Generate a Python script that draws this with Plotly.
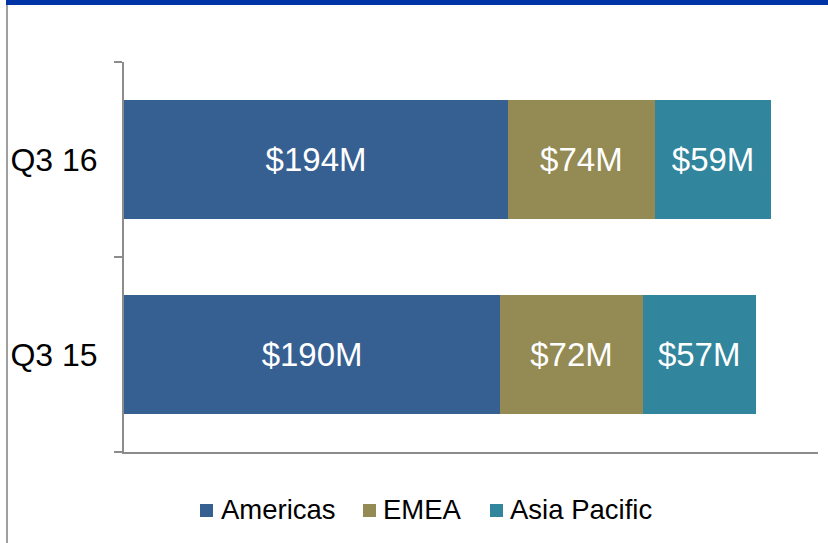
import plotly.graph_objects as go

categories = ["Q3 15", "Q3 16"]
americas = [190, 194]
emea = [72, 74]
asia_pacific = [57, 59]
series_names = ["Americas", "EMEA", "Asia Pacific"]
colors = ["#376092", "#948A54", "#31859C"]

FONT = "Liberation Sans, Arial, sans-serif"

fig = go.Figure()
for name, vals, col in zip(series_names, [americas, emea, asia_pacific], colors):
    fig.add_trace(go.Bar(
        y=categories, x=vals, name=name, orientation="h",
        marker=dict(color=col, line=dict(width=0)),
        text=[f"${v}M" for v in vals],
        textposition="inside", insidetextanchor="middle", textangle=0,
        textfont=dict(color="white", size=33, family=FONT),
        width=0.615, showlegend=False,
    ))

W, H = 828, 543
L, R, T, B = 124, 10, 62, 91
pw, ph = W - L - R, H - T - B

def px(x):
    return (x - L) / pw

def py(y):
    return (H - B - y) / ph

shapes = [
    dict(type="rect", xref="paper", yref="paper", x0=px(6), x1=px(828), y0=py(5), y1=py(0),
         fillcolor="#0033A6", line=dict(width=0), layer="above"),
    dict(type="line", xref="paper", yref="paper", x0=px(7), x1=px(7), y0=py(5), y1=py(543),
         line=dict(color="#a0a0a0", width=2)),
]
annotations = []
# manual legend
sq_x = [200, 363, 490]
tx_x = [219, 381, 508]
for name, col, sx, tx in zip(series_names, colors, sq_x, tx_x):
    shapes.append(dict(type="rect", xref="paper", yref="paper", x0=px(sx), x1=px(sx + 13),
                       y0=py(517), y1=py(504), fillcolor=col, line=dict(width=0)))
    annotations.append(dict(text=name, xref="paper", yref="paper", x=px(tx), y=py(510),
                            xanchor="left", yanchor="middle", showarrow=False,
                            font=dict(size=27.5, family=FONT, color="black")))

fig.update_layout(
    width=W, height=H,
    barmode="stack",
    margin=dict(l=L, r=R, t=T, b=B, pad=0),
    paper_bgcolor="white", plot_bgcolor="white",
    font=dict(family=FONT, color="black"),
    showlegend=False,
    xaxis=dict(range=[0, 350.5], showgrid=False, zeroline=False, showticklabels=False,
               ticks="", showline=True, linecolor="#8c8c8c", linewidth=2, fixedrange=True),
    yaxis=dict(type="category", range=[-0.5, 1.5], showgrid=False, zeroline=False,
               showline=True, linecolor="#8c8c8c", linewidth=2,
               ticks="outside", tickson="boundaries", ticklen=8, tickwidth=2, tickcolor="#8c8c8c",
               tickfont=dict(size=32, family=FONT, color="black"), ticklabelstandoff=18),
    shapes=shapes,
    annotations=annotations,
)

fig.write_html("out.html", config={"displayModeBar": False},
               post_script="document.body.style.margin='0';document.body.style.overflow='hidden';")
